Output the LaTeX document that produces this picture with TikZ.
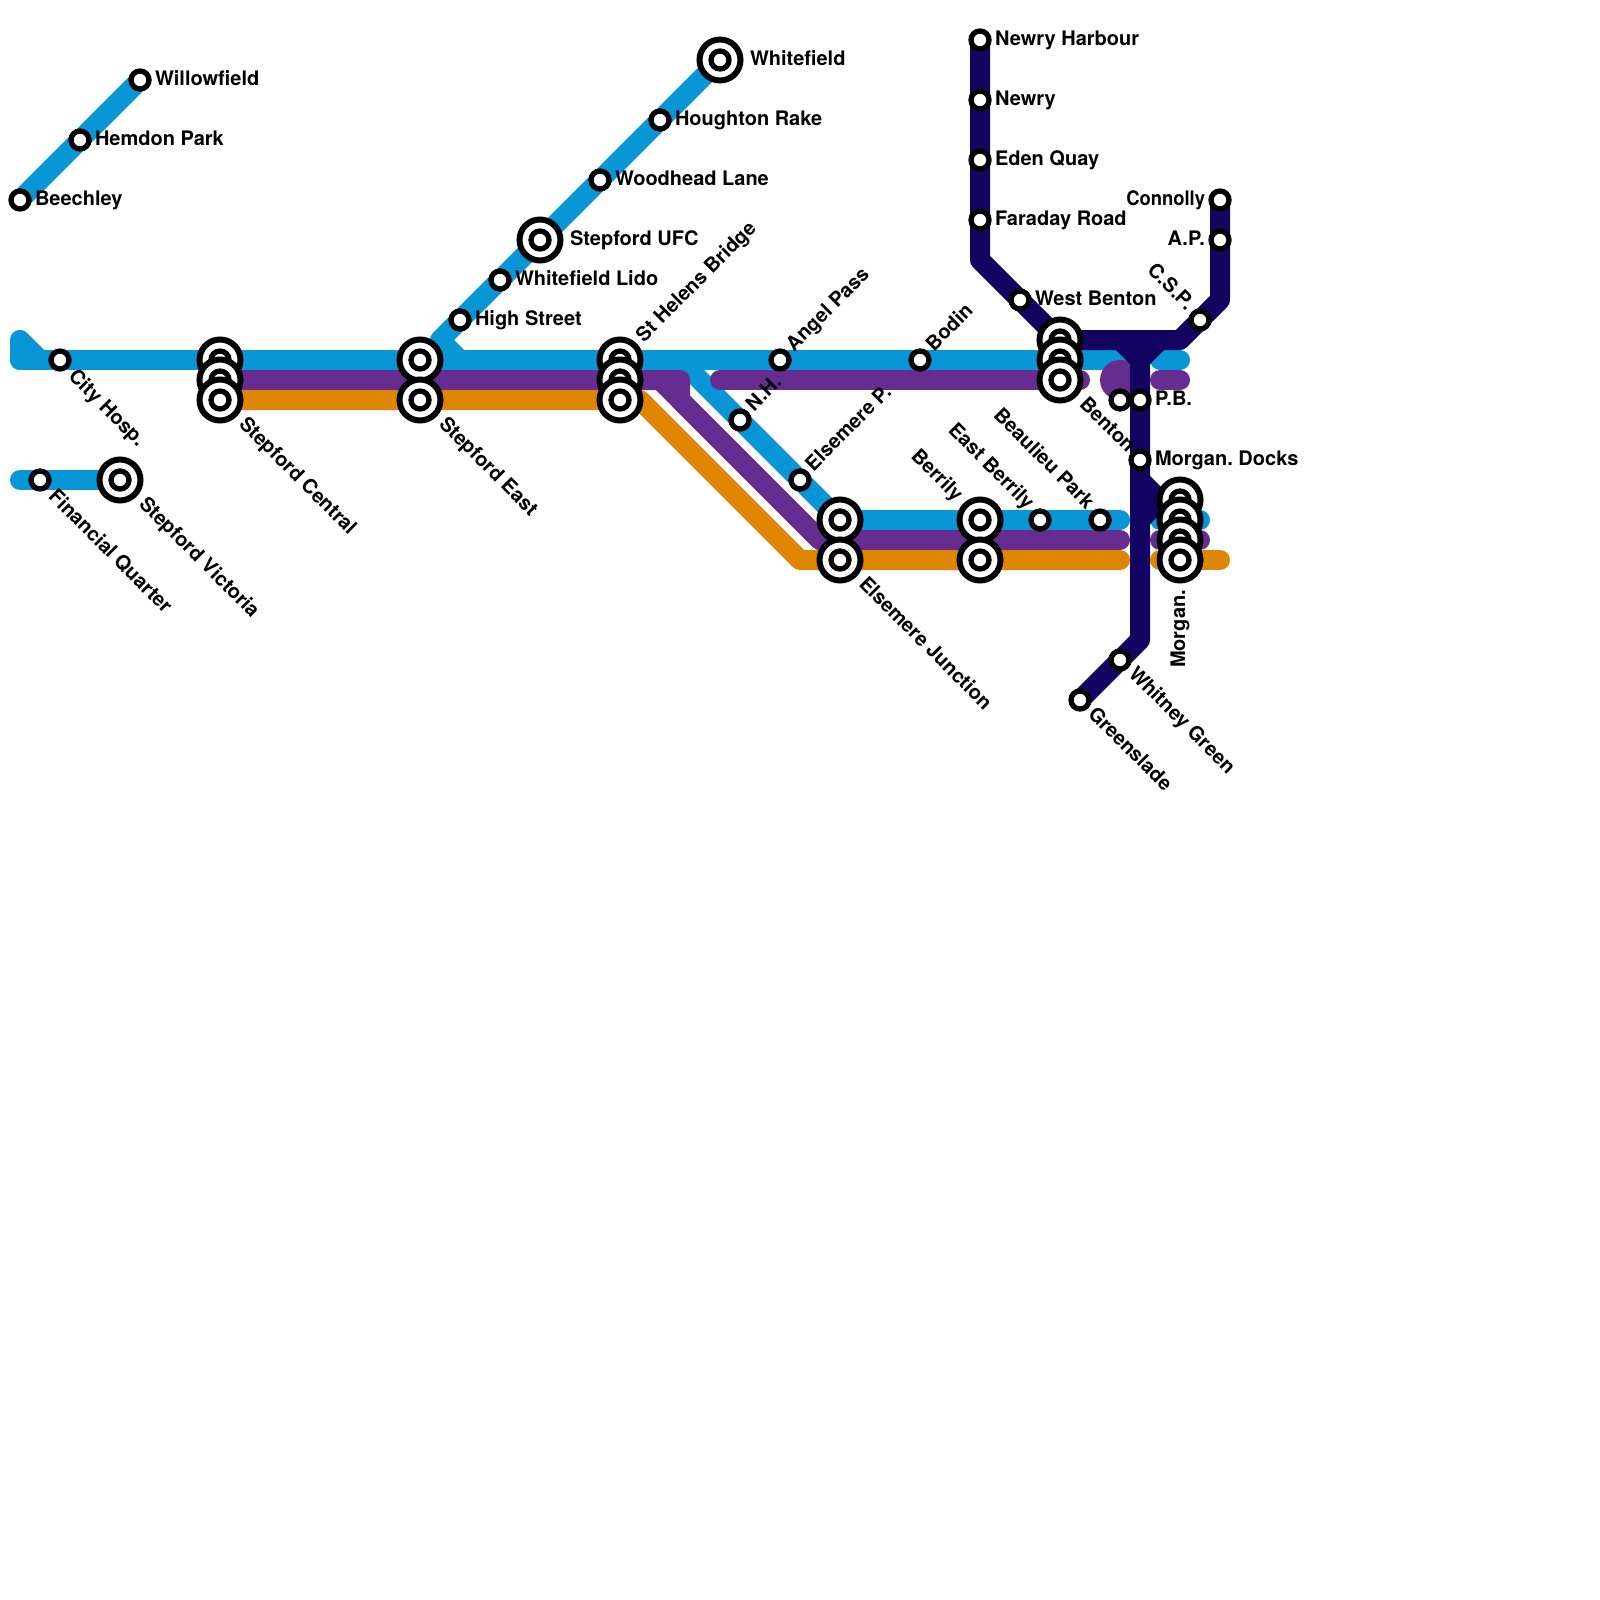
\documentclass[tikz,border=0pt]{standalone}
\usepackage{fontspec}
\setmainfont{TeX Gyre Heros}
\frenchspacing
\definecolor{lblue}{HTML}{0896D7}
\definecolor{lpurple}{HTML}{662C90}
\definecolor{lorange}{HTML}{DF8600}
\definecolor{lnavy}{HTML}{120460}
\pgfdeclarelayer{bg}
\pgfsetlayers{bg,main}
\tikzset{
  route/.style={line width=20pt,line cap=round,line join=round},
  stn/.style={circle,draw=black,fill=white,line width=5.3pt,minimum size=18pt,inner sep=0pt,outer sep=0pt},
  xch/.style={circle,draw=black,fill=white,line width=6pt,minimum size=41pt,inner sep=0pt,outer sep=0pt},
  way/.style={inner sep=0pt,outer sep=0pt,minimum size=0pt},
  lab/.style={inner sep=0pt,outer sep=0pt,font=\fontsize{20}{24}\selectfont\bfseries,text=black},
  lr/.style={lab,anchor=base west},
  ll/.style={lab,anchor=base east},
  lup/.style={lab,anchor=base west,rotate=45},
  ldn/.style={lab,anchor=base west,rotate=-45},
  lul/.style={lab,anchor=base east,rotate=-45},
  lvt/.style={lab,anchor=base east,rotate=90},
}
\newcommand\St[2]{\node[stn] (#1) at (#2) {};}
\newcommand\Xc[2]{\node[xch] (#1) at (#2) {};\node[stn] (#1i) at (#2) {};}
\begin{document}
\begin{tikzpicture}[x=1pt,y=-1pt]
\useasboundingbox (0,0) rectangle (1600,1600);
% stations
\St{beechley}{20,200}\St{hemdon}{80,140}\St{willow}{140,80}
\St{cityh}{60,360}\St{finq}{40,480}\Xc{vict}{120,480}
\Xc{centa}{220,360}\Xc{centb}{220,380}\Xc{centc}{220,400}
\Xc{easta}{420,360}\Xc{eastb}{420,400}
\St{high}{460,320}\St{lido}{500,280}\Xc{ufc}{540,240}\St{wood}{600,180}\St{hough}{660,120}\Xc{white}{720,60}
\Xc{hela}{620,360}\Xc{helb}{620,380}\Xc{helc}{620,400}
\St{nh}{740,420}\St{angel}{780,360}\St{elp}{800,480}\St{bodin}{920,360}
\Xc{elja}{840,520}\Xc{eljb}{840,560}
\Xc{bera}{980,520}\Xc{berb}{980,560}
\St{eber}{1040,520}\St{beau}{1100,520}
\St{newh}{980,40}\St{newry}{980,100}\St{eden}{980,160}\St{fara}{980,220}\St{wben}{1020,300}
\Xc{bena}{1060,340}\Xc{benb}{1060,360}\Xc{benc}{1060,380}
\St{pba}{1120,400}\St{pbb}{1140,400}\St{docks}{1140,460}
\St{csp}{1200,320}\St{conn}{1220,200}\St{ap}{1220,240}
\Xc{mora}{1180,500}\Xc{morb}{1180,520}\Xc{morc}{1180,540}\Xc{mord}{1180,560}
\St{whit}{1120,660}\St{green}{1080,700}
% way points
\foreach \n/\p in {a1/{20,340},a2/{40,360},a3/{20,360},a4/{1120,360},
  b1/{440,340},b2/{460,360},b3/{680,360},b4/{1120,520},b5/{1160,360},b6/{1180,360},b7/{1160,520},b8/{1200,520},
  p1/{680,380},p2/{680,400},p3/{820,540},p4/{1120,540},p5/{720,380},p6/{1080,380},p7/{1160,380},p8/{1180,380},p9/{1160,540},p10/{1200,540},pd/{1120,380},p0/{660,380},
  o1/{640,400},o2/{800,560},o3/{1120,560},o4/{1160,560},o5/{1220,560},f1/{20,480},
  n1/{980,260},n2/{1180,340},n3/{1220,300},n4/{1140,340},n5/{1140,640},n6/{1120,340},n7/{1160,340},n8/{1140,360},n9/{1140,480},n10/{1160,500},n11/{1140,520}}
  {\node[way] (\n) at (\p) {};}
\begin{pgfonlayer}{bg}
\draw[route,lblue] (beechley.center) -- (willow.center);
\draw[route,lblue] (a3.center) -- (a1.center) -- (a2.center);
\draw[route,lblue] (a3.center) -- (a4.center);
\draw[route,lblue] (white.center) -- (b1.center) -- (b2.center);
\draw[route,lblue] (b3.center) -- (elja.center) -- (b4.center);
\draw[route,lblue] (a4.center) -- (pba.center);
\draw[route,lblue] (b5.center) -- (b6.center);
\draw[route,lblue] (b7.center) -- (b8.center);
\draw[route,lblue] (f1.center) -- (vict.center);
\draw[route,lpurple] (centb.center) -- (p1.center) -- (p2.center) -- (p3.center) -- (p4.center);
\draw[route,lpurple] (p0.center) -- (p3.center);
\draw[route,lpurple] (p5.center) -- (p6.center);
\fill[lpurple] (pd.center) circle[radius=20pt];
\draw[route,lpurple] (p7.center) -- (p8.center);
\draw[route,lpurple] (p9.center) -- (p10.center);
\draw[route,lorange] (centc.center) -- (o1.center) -- (o2.center) -- (o3.center);
\draw[route,lorange] (o4.center) -- (o5.center);
\draw[route,lnavy] (newh.center) -- (n1.center) -- (bena.center) -- (n2.center) -- (n3.center) -- (conn.center);
\draw[route,lnavy] (n4.center) -- (n5.center) -- (green.center);
\draw[route,lnavy] (n6.center) -- (n8.center) -- (n7.center);
\draw[route,lnavy] (n9.center) -- (n10.center) -- (n11.center);
\end{pgfonlayer}
% labels
\node[lr] (t1) at (35,205) {Beechley};
\node[lr] (t2) at (95,145.5) {Hemdon Park};
\node[lr] (t3) at (155,85.5) {Willowfield};
\node[lr] (t4) at (475,325) {High Street};
\node[lr] (t5) at (515,285) {Whitefield Lido};
\node[lr] (t6) at (570,245) {Stepford UFC};
\node[lr] (t7) at (615,185) {Woodhead Lane};
\node[lr] (t8) at (675,125) {Houghton Rake};
\node[lr] (t9) at (750,65.5) {Whitefield};
\node[lr] (t10) at (995,45.5) {Newry Harbour};
\node[lr] (t11) at (995,105.5) {Newry};
\node[lr] (t12) at (995,165) {Eden Quay};
\node[lr] (t13) at (995,225) {Faraday Road};
\node[lr] (t14) at (1035,305) {West Benton};
\node[lr] (t15) at (1155,405) {P.B.};
\node[lr] (t16) at (1155,465) {Morgan. Docks};
\node[ll,xscale=.92] (t17) at (1205,205) {Connolly};
\node[ll] (t18) at (1205,245) {A.P.};
\node[ldn] (t19) at (67.5,377.5) {City Hosp.};
\node[ldn] (t20) at (47.5,497.5) {Financial Quarter};
\node[ldn] (t21) at (138,505) {Stepford Victoria};
\node[ldn] (t22) at (238,425) {Stepford Central};
\node[ldn] (t23) at (438,425) {Stepford East};
\node[ldn] (t24) at (858,585) {Elsemere Junction};
\node[ldn] (t25) at (1078.5,405) {Benton};
\node[ldn] (t26) at (1127.5,675) {Whitney Green};
\node[ldn] (t27) at (1087,715) {Greenslade};
\node[lup] (t28) at (644,343) {St Helens Bridge};
\node[lup] (t29) at (794,352) {Angel Pass};
\node[lup] (t30) at (934,352) {Bodin};
\node[lup] (t31) at (754,412) {N.H.};
\node[lup] (t32) at (813.5,472) {Elsemere P.};
\node[lul] (t33) at (955,502) {Berrily};
\node[lul] (t34) at (1026,510) {East Berrily};
\node[lul] (t35) at (1086,510) {Beaulieu Park};
\node[lul] (t36) at (1186,311) {C.S.P.};
\node[lvt] (t37) at (1185,590) {Morgan.};
\end{tikzpicture}
\end{document}
